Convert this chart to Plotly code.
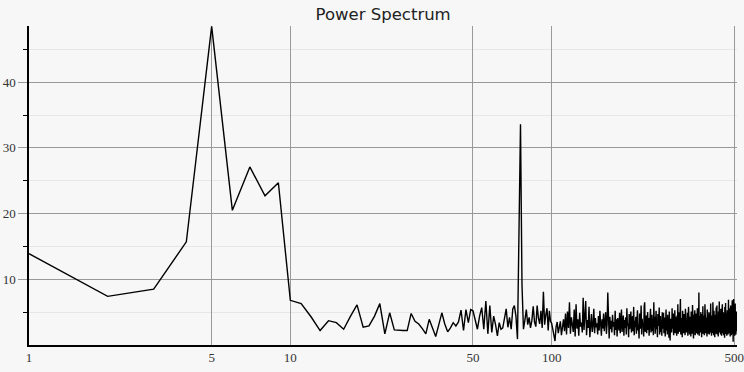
import numpy as np
import plotly.graph_objects as go

title_text = "Power Spectrum"

power = [
    13.9, 7.4, 8.5, 15.7, 48.5, 20.5, 27.1, 22.7, 24.7, 6.8,
    6.3, 4.3, 2.2, 3.7, 3.4, 2.4, 4.4, 6.1, 2.7, 2.9,
    4.4, 6.3, 1.7, 4.9, 2.3, 2.2, 2.2, 2.2, 4.8, 3.6,
    3.2, 2.5, 1.7, 3.9, 2.7, 1.3, 3.1, 4.9, 3.2, 2.0,
    2.6, 3.4, 2.9, 3.5, 5.3, 2.2, 5.4, 3.4, 5.4, 5.2,
    3.8, 2.4, 4.4, 5.7, 2.4, 6.7, 1.7, 6.0, 1.9, 4.4,
    3.1, 1.4, 3.4, 2.4, 2.6, 3.9, 5.5, 2.7, 4.2, 2.4,
    5.5, 6.0, 4.4, 0.9, 17.8, 33.6, 9.2, 2.4, 3.8, 5.4,
    3.1, 4.2, 2.6, 3.7, 5.9, 3.5, 2.8, 6.0, 4.1, 3.2,
    5.2, 2.6, 8.1, 3.1, 4.6, 5.6, 2.2, 5.2, 3.6, 3.3,
    2.4, 1.6, 0.6, 2.8, 3.5, 1.8, 2.9, 3.6, 1.5, 2.5,
    3.9, 2.1, 4.8, 1.6, 5.1, 2.6, 6.5, 1.7, 4.2, 3.1,
    2.0, 5.4, 1.3, 6.2, 2.5, 3.9, 1.4, 4.9, 2.8, 3.4,
    1.9, 7.2, 2.3, 4.5, 6.7, 1.5, 3.8, 2.6, 5.8, 1.2,
    3.5, 4.7, 2.0, 3.0, 5.5, 1.8, 4.1, 2.7, 3.3, 1.6,
    4.4, 2.2, 5.2, 3.0, 1.4, 3.9, 2.5, 4.8, 2.1, 3.6,
    5.0, 1.7, 3.2, 8.0, 2.9, 1.0, 4.3, 2.4, 3.7, 1.9,
    4.6, 2.8, 3.5, 1.5, 5.2, 2.3, 3.9, 1.3, 4.1, 3.0,
    2.2, 4.9, 1.8, 3.4, 5.4, 2.0, 3.1, 4.5, 1.4, 3.8,
    2.6, 4.2, 1.6, 5.6, 2.9, 3.3, 1.2, 4.7, 2.4, 3.6,
    5.1, 1.9, 3.0, 4.4, 2.1, 5.8, 1.5, 3.7, 2.7, 4.3,
    1.7, 3.9, 5.3, 2.2, 3.1, 1.0, 4.8, 2.5, 3.5, 6.0,
    1.6, 4.0, 2.8, 3.4, 1.3, 5.9, 6.5, 2.0, 3.6, 4.5,
    1.8, 3.2, 5.0, 2.3, 4.1, 1.4, 3.8, 2.6, 5.5, 1.9,
    3.3, 4.6, 2.1, 3.9, 1.5, 6.5, 2.7, 4.3, 1.7, 3.5,
    5.2, 2.4, 3.0, 1.2, 4.7, 2.9, 3.6, 5.7, 1.6, 3.1,
    4.4, 2.0, 3.8, 1.4, 5.0, 2.5, 3.3, 4.9, 1.8, 2.8,
    4.2, 1.3, 3.6, 5.4, 2.2, 3.9, 1.6, 4.6, 2.6, 3.4,
    1.1, 5.1, 2.8, 0.7, 4.0, 2.3, 3.7, 1.9, 5.6, 2.5,
    3.2, 4.8, 1.5, 3.5, 2.1, 5.3, 1.8, 4.3, 2.9, 3.6,
    1.4, 4.5, 2.4, 6.2, 1.7, 3.8, 2.7, 5.0, 2.0, 3.3,
    7.0, 1.6, 4.1, 2.6, 3.5, 1.2, 5.2, 2.3, 3.9, 1.8,
    4.7, 2.9, 3.1, 1.5, 5.5, 2.2, 4.4, 1.9, 3.6, 2.5,
    4.9, 1.4, 3.3, 5.8, 2.0, 3.7, 1.6, 4.3, 2.8, 3.0,
    1.3, 5.1, 2.4, 3.8, 1.7, 6.1, 2.6, 3.4, 1.0, 4.6,
    2.1, 3.9, 5.3, 1.5, 3.2, 2.7, 4.8, 1.8, 3.5, 2.3,
    5.6, 1.6, 4.0, 2.9, 3.3, 8.0, 1.4, 4.4, 2.2, 3.7,
    1.9, 5.0, 2.5, 3.6, 1.2, 4.7, 2.8, 3.1, 5.9, 1.7,
    3.8, 2.4, 4.5, 1.5, 3.4, 6.2, 2.0, 3.9, 1.8, 4.2,
    2.6, 3.3, 1.3, 5.4, 2.3, 4.1, 1.7, 3.6, 2.9, 5.0,
    1.6, 3.5, 2.2, 4.8, 1.9, 6.3, 2.7, 3.2, 1.4, 4.5,
    2.5, 3.8, 1.8, 6.5, 2.1, 3.6, 1.5, 5.2, 2.8, 3.4,
    1.2, 4.6, 2.4, 3.9, 1.7, 5.7, 2.0, 3.3, 6.0, 1.6,
    4.3, 2.6, 3.5, 1.3, 5.1, 2.3, 3.7, 6.6, 1.9, 4.0,
    2.5, 3.2, 1.6, 5.5, 2.9, 3.8, 1.4, 4.7, 2.2, 6.2,
    1.8, 3.6, 2.7, 5.0, 1.5, 4.2, 2.4, 3.4, 1.1, 5.8,
    2.0, 3.9, 6.4, 1.7, 3.5, 2.6, 4.9, 1.4, 3.1, 5.3,
    2.3, 4.4, 1.6, 3.7, 6.9, 2.1, 3.3, 1.8, 5.6, 2.5,
    4.1, 1.3, 3.6, 6.0, 2.2, 3.9, 1.5, 4.8, 2.7, 5.2,
    6.8, 1.7, 3.4, 2.4, 0.5, 4.6, 7.0, 1.9, 3.8, 2.6,
    5.5, 1.4, 3.2, 6.3, 2.0, 4.3, 1.6, 3.7, 2.8, 5.1,
    2.1, 3.6,
]
freq = np.arange(1, len(power) + 1)

x_tickvals = [1, 5, 10, 50, 100, 500]
x_ticktext = ["1", "5", "10", "50", "100", "500"]
y_tickvals = [10, 20, 30, 40]
y_minor_vals = [5, 15, 25, 35, 45]
x_max = 512
y_max = 48.55

fig = go.Figure()
fig.add_trace(go.Scatter(
    x=freq, y=power, mode="lines",
    line=dict(color="#000000", width=1.4),
    hoverinfo="x+y", showlegend=False,
))

fig.update_layout(
    width=744, height=372,
    margin=dict(l=29, r=7, t=26, b=27, pad=0, autoexpand=False),
    paper_bgcolor="#f7f7f7", plot_bgcolor="#f7f7f7",
    title=dict(text=title_text, x=0.515, xanchor="center", y=0.963, yanchor="middle",
               font=dict(family="DejaVu Sans", size=16.5, color="#222222")),
    xaxis=dict(
        type="log", range=[0, np.log10(x_max)], automargin=False,
        tickvals=x_tickvals, ticktext=x_ticktext,
        ticklabeloverflow="allow",
        showgrid=True, gridcolor="#999999", gridwidth=1,
        showline=True, linecolor="#000000", linewidth=1.5,
        ticks="", zeroline=False,
        tickfont=dict(family="Liberation Serif", size=13, color="#333333"),
    ),
    yaxis=dict(
        range=[0, y_max], automargin=False,
        tickvals=y_tickvals,
        showgrid=True, gridcolor="#999999", gridwidth=1,
        showline=True, linecolor="#000000", linewidth=1.5,
        ticks="outside", ticklen=9, tickcolor="#999999", tickwidth=1,
        zeroline=False,
        tickfont=dict(family="Liberation Serif", size=13, color="#333333"),
        minor=dict(tickvals=y_minor_vals, showgrid=True, gridcolor="#e6e6e6",
                   ticks="outside", ticklen=4, tickcolor="#000000", tickwidth=1),
    ),
)

fig.write_html("out.html")
